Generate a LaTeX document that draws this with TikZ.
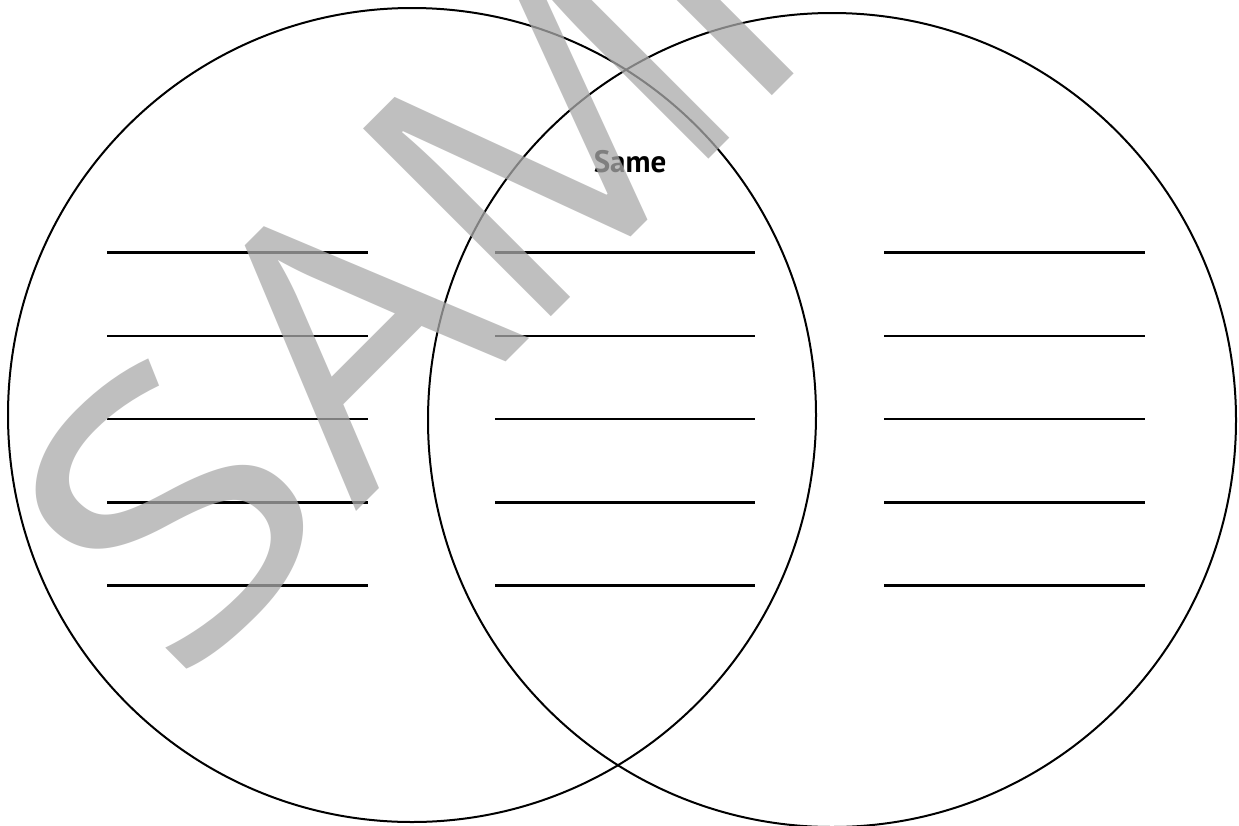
\documentclass[tikz,border=0pt]{standalone}
\usepackage{graphicx}
\usepackage{fontspec}
\newfontfamily\wmfont{Open Sans}
\newfontfamily\lblfont{PT Sans}
\definecolor{wmgray}{RGB}{170,170,170}
\begin{document}
\begin{tikzpicture}[x=1pt,y=-1pt,
  ring/.style={draw=black, line width=2pt},
  blank/.style={draw=black, line width=2.2pt},
  wm/.style={text=wmgray, text opacity=0.75, inner sep=0pt, rotate=45, anchor=base,
    font=\wmfont\fontsize{372}{372}\selectfont},
  title/.style={font=\lblfont\bfseries\fontsize{31}{31}\selectfont, anchor=base, inner sep=0pt}]
\useasboundingbox (0,0) rectangle (1239,825);
\clip (0,0) rectangle (1239,825);
\fill[white] (0,0) rectangle (1239,825);
\draw[ring] (412,415) ellipse [x radius=404, y radius=407];
\draw[ring] (832,420) ellipse [x radius=404, y radius=407];
\foreach \y in {252.5,336,419,502.5,585.5}{
  \foreach \a/\b in {107/368,495/755,884/1145}{
    \draw[blank] (\a,\y) -- (\b,\y);
  }
}
\node[title] (same) at (630,172) {Same};
\node[wm] (wmS) at (263.2,604.8) {\scalebox{1.2}[1]{S}};
\node[wm] (wmA) at (442.8,425.2) {\scalebox{1.04}[1]{A}};
\node[wm] (wmM) at (640.8,227.2) {\scalebox{0.96}[1]{M}};
\node[wm, anchor=base west] (wmP) at (746.5,121.5) {P};
\end{tikzpicture}
\end{document}
